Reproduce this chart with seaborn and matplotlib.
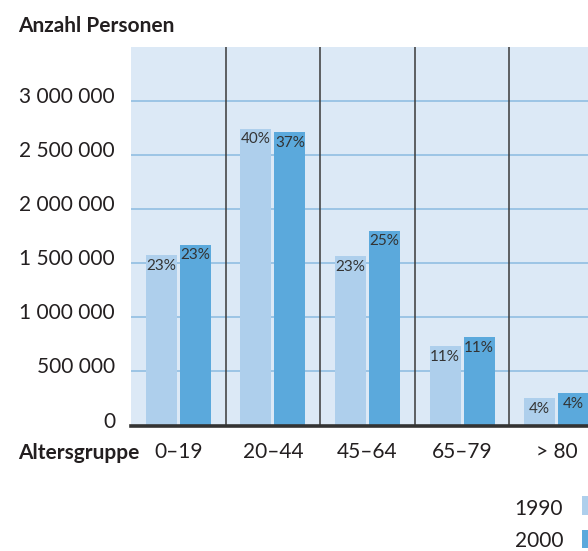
import numpy as np
import pandas as pd
import matplotlib
matplotlib.use("Agg")
import matplotlib.pyplot as plt
from matplotlib.patches import Rectangle
import matplotlib.transforms as mtransforms
import seaborn as sns

# ---- data ----
age_groups = ["0–19", "20–44", "45–64", "65–79", "> 80"]
years = ["1990", "2000"]
pop_1990 = [1576000, 2743000, 1567000, 734000, 253000]
pop_2000 = [1671000, 2708000, 1801000, 819000, 302000]
pct_1990 = ["23%", "40%", "23%", "11%", "4%"]
pct_2000 = ["23%", "37%", "25%", "11%", "4%"]
y_ticks = [0, 500000, 1000000, 1500000, 2000000, 2500000, 3000000]
y_tick_labels = ["0", "500 000", "1 000 000", "1 500 000", "2 000 000", "2 500 000", "3 000 000"]
title = "Anzahl Personen"
x_title = "Altersgruppe"

df = pd.DataFrame({
    "Altersgruppe": age_groups * 2,
    "Jahr": [years[0]] * len(age_groups) + [years[1]] * len(age_groups),
    "Personen": pop_1990 + pop_2000,
})

# ---- style ----
sns.set_theme(style="white")
plt.rcParams["font.family"] = ["Lato", "DejaVu Sans"]

c_bg = "#dce9f6"
c_1990 = "#aecfec"
c_2000 = "#5ba9dc"
c_grid = "#9cc4e5"
c_text = "#231f20"
palette = {years[0]: c_1990, years[1]: c_2000}

W, H = 588, 551
fig = plt.figure(figsize=(W / 100, H / 100), dpi=100)
fig.patch.set_facecolor("white")
ax = fig.add_axes([131 / W, 125.5 / H, 473 / W, 378.8 / H])
ax.set_facecolor(c_bg)

sns.barplot(data=df, x="Altersgruppe", y="Personen", hue="Jahr", palette=palette,
            width=0.718, gap=0.088, saturation=1, legend=False, ax=ax,
            linewidth=0, errorbar=None)

ax.set_xlim(-0.5, len(age_groups) - 0.5)
ax.set_ylim(0, 3500000)

# grid
ax.set_axisbelow(True)
ax.yaxis.grid(True, color=c_grid, linewidth=1.4)
ax.xaxis.grid(False)
for i in range(len(age_groups) - 1):
    ax.axvline(i + 0.5, color="#3a3a3a", linewidth=1.1, zorder=1)

for s in ["left", "right", "top"]:
    ax.spines[s].set_visible(False)
ax.spines["bottom"].set_color("#333333")
ax.spines["bottom"].set_linewidth(2.6)
ax.spines["bottom"].set_zorder(5)

ax.set_yticks(y_ticks)
ax.set_yticklabels(y_tick_labels)
ax.tick_params(axis="both", length=0, labelsize=15, colors=c_text)
ax.tick_params(axis="y", pad=11.5)
ax.tick_params(axis="x", pad=12)
ax.set_xlabel("")
ax.set_ylabel("")
off = mtransforms.ScaledTranslation(0, -2 / 100, fig.dpi_scale_trans)
for lab in ax.get_yticklabels():
    lab.set_verticalalignment("baseline")
    lab.set_transform(lab.get_transform() + off)

# percentage labels inside bars
for cont, labels in zip(ax.containers, [pct_1990, pct_2000]):
    for rect, txt in zip(cont.patches, labels):
        ax.annotate(txt, (rect.get_x() + rect.get_width() / 2, rect.get_height()),
                    xytext=(0, -7.8), textcoords="offset points",
                    ha="center", va="center", fontsize=11, color="#333333")

# titles
fig.text(18 / W, 1 - 32.3 / H, title, fontsize=15, fontweight="bold",
         color=c_text, va="baseline", ha="left")
fig.text(18 / W, 1 - 459 / H, x_title, fontsize=15, fontweight="bold",
         color=c_text, va="baseline", ha="left")

# legend (right side, swatches partly cut by the figure edge)
leg_base = [515, 547]
leg_top = [496.5, 529.5]
for yr, yb, yt in zip(years, leg_base, leg_top):
    fig.text(563 / W, 1 - yb / H, yr, fontsize=15, color=c_text,
             ha="right", va="baseline")
    fig.patches.append(Rectangle((582 / W, 1 - (yt + 18.3) / H), 14 / W, 18.3 / H,
                                 transform=fig.transFigure, facecolor=palette[yr],
                                 edgecolor="none"))

fig.savefig("out.png", dpi=100)
